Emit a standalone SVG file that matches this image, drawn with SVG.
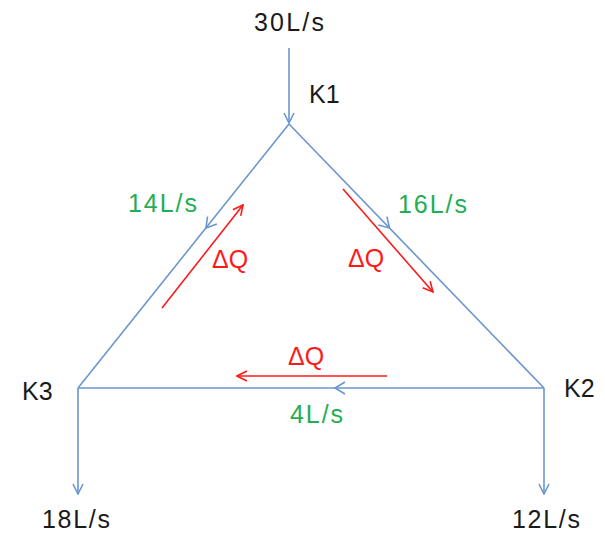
<svg xmlns="http://www.w3.org/2000/svg" width="605" height="535" viewBox="0 0 605 535">
<defs>
<style>
.pipe{fill:none;stroke:#6b96cd;stroke-width:1.6}
.dq{fill:none;stroke:#ff1a1a;stroke-width:1.6}
.t{font-family:"Liberation Sans",Arial,sans-serif;font-size:25px}
.blk{fill:#1a1a1a}
.grn{fill:#1fae52}
.red{fill:#ff1a1a}
</style>
<marker id="ab" viewBox="0 0 12 12" refX="11" refY="6" markerWidth="12" markerHeight="12" markerUnits="userSpaceOnUse" orient="auto">
<path d="M1,1 L11,6 L1,11" fill="none" stroke="#6b96cd" stroke-width="1.6"/>
</marker>
<marker id="ar" viewBox="0 0 12 12" refX="11" refY="6" markerWidth="12" markerHeight="12" markerUnits="userSpaceOnUse" orient="auto">
<path d="M1,1 L11,6 L1,11" fill="none" stroke="#ff1a1a" stroke-width="1.6"/>
</marker>
</defs>
<rect width="605" height="535" fill="#ffffff"/>
<g id="connectors">
<line class="pipe" x1="289" y1="48" x2="289" y2="123" marker-end="url(#ab)"/>
<line class="pipe" x1="289" y1="124" x2="78" y2="388"/>
<line class="pipe" x1="289" y1="124" x2="544" y2="388"/>
<line class="pipe" x1="78" y1="388" x2="544" y2="388"/>
<line class="pipe" x1="78" y1="388" x2="78" y2="494" marker-end="url(#ab)"/>
<line class="pipe" x1="544" y1="388" x2="544" y2="494" marker-end="url(#ab)"/>
<polyline class="pipe" points="216.9,223.9 206,228 207.5,216.5"/>
<polyline class="pipe" points="378.3,225 389.5,228 386.9,216.6"/>
<polyline class="pipe" points="345,382 335,388 345,394"/>
<line class="dq" x1="162" y1="308" x2="243" y2="205" marker-end="url(#ar)"/>
<line class="dq" x1="343" y1="189" x2="433" y2="292" marker-end="url(#ar)"/>
<line class="dq" x1="387" y1="376" x2="237" y2="376" marker-end="url(#ar)"/>
</g>
<g id="K1"><text class="t blk" x="309" y="103">K1</text></g>
<g id="K2"><text class="t blk" x="564" y="397">K2</text></g>
<g id="K3"><text class="t blk" x="22" y="400">K3</text></g>
<g id="labels">
<text class="t blk" x="289" y="31" text-anchor="middle" textLength="70">30L/s</text>
<text class="t grn" x="128" y="212" textLength="69">14L/s</text>
<text class="t grn" x="398" y="213" textLength="69">16L/s</text>
<text class="t grn" x="290" y="423" textLength="53">4L/s</text>
<text class="t red" x="212" y="268">ΔQ</text>
<text class="t red" x="348" y="267">ΔQ</text>
<text class="t red" x="288" y="365">ΔQ</text>
<text class="t blk" x="42" y="528" textLength="68">18L/s</text>
<text class="t blk" x="512" y="528" textLength="68">12L/s</text>
</g>
</svg>
